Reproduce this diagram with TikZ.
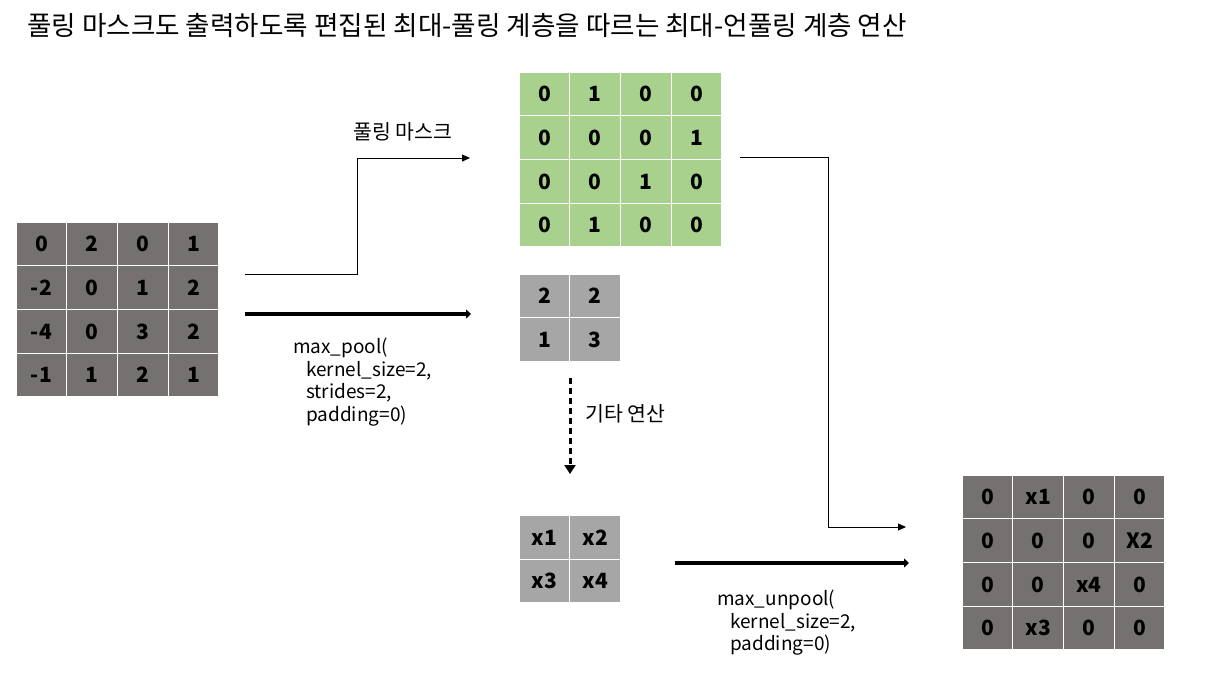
\documentclass[tikz,border=0pt]{standalone}
\usepackage{fontspec}
\setmainfont{Noto Sans CJK KR}
\usetikzlibrary{arrows.meta}
\definecolor{darkcell}{RGB}{118,113,113}
\definecolor{greencell}{RGB}{169,209,142}
\definecolor{lightcell}{RGB}{166,166,166}

\begin{document}
\begin{tikzpicture}[x=1pt,y=-1pt,
  cell/.style={minimum width=50.75pt,minimum height=43.75pt,inner sep=0pt,draw=white,line width=1.2pt,font=\fontsize{21}{21}\selectfont\bfseries},
  thinarrow/.style={line width=1pt,-{Triangle[length=8pt,width=7pt]}},
  thickarrow/.style={line width=4pt,-{Triangle[length=5pt,width=9pt]}},
  lbl/.style={font=\fontsize{19}{22.5}\selectfont,align=left,inner sep=0pt},
  kolbl/.style={font=\fontsize{20.5}{22.5}\selectfont,inner sep=0pt}]
\useasboundingbox (0,0) rectangle (1214,677);
\node[anchor=west,inner sep=0pt,font=\fontsize{26.6}{26.6}\selectfont] (title) at (27,25) {풀링 마스크도 출력하도록 편집된 최대-풀링 계층을 따르는 최대-언풀링 계층 연산};
% input
\foreach \v [count=\i from 0] in {0,2,0,1,-2,0,1,2,-4,0,3,2,-1,1,2,1}
  \node[cell,fill=darkcell] (in\i) at ({41.4+50.75*mod(\i,4)},{243.9+43.75*div(\i,4)}) {\v};
% pooling mask
\foreach \v [count=\i from 0] in {0,1,0,0,0,0,0,1,0,0,1,0,0,1,0,0}
  \node[cell,fill=greencell] (mask\i) at ({544.4+50.75*mod(\i,4)},{93.9+43.75*div(\i,4)}) {\v};
% pooled
\foreach \v [count=\i from 0] in {2,2,1,3}
  \node[cell,fill=lightcell] (pool\i) at ({544.4+50.75*mod(\i,2)},{295.9+43.75*div(\i,2)}) {\v};
\foreach \v [count=\i from 0] in {x1,x2,x3,x4}
  \node[cell,fill=lightcell] (x\i) at ({544.4+50.75*mod(\i,2)},{537.4+43.75*div(\i,2)}) {\v};
% unpooled
\foreach \v [count=\i from 0] in {0,x1,0,0,0,0,0,X2,0,0,x4,0,0,x3,0,0}
  \node[cell,fill=darkcell] (out\i) at ({987.4+50.75*mod(\i,4)},{496.9+43.75*div(\i,4)}) {\v};

\coordinate (maskFrom) at (245,274);
\coordinate (maskTo) at (470,158);
\coordinate (poolFrom) at (245,314);
\coordinate (poolTo) at (471,314);
\coordinate (etcFrom) at (570,378);
\coordinate (etcTo) at (570,474);
\coordinate (maskOut) at (740,157);
\coordinate (outMask) at (906,527);
\coordinate (unpoolFrom) at (675,563);
\coordinate (unpoolTo) at (909,563);

\draw[thinarrow] (maskFrom) -- (357,274) |- (maskTo);
\node[kolbl] (maskLbl) at (403,132) {풀링 마스크};
\draw[thickarrow] (poolFrom) -- (poolTo);
\node[lbl,anchor=north west] (poolLbl) at (293,338) {max\_pool(\\\hspace*{13pt}kernel\_size=2,\\\hspace*{13pt}strides=2,\\\hspace*{13pt}padding=0)};
\draw[line width=3pt,dash pattern=on 6pt off 4pt,-{Triangle[length=9pt,width=11pt]}] (etcFrom) -- (etcTo);
\node[kolbl,anchor=west] (etcLbl) at (585,414) {기타 연산};
\draw[thinarrow] (maskOut) -- (828,157) |- (outMask);
\draw[thickarrow] (unpoolFrom) -- (unpoolTo);
\node[lbl,anchor=north west] (unpoolLbl) at (717,590) {max\_unpool(\\\hspace*{13pt}kernel\_size=2,\\\hspace*{13pt}padding=0)};
\end{tikzpicture}
\end{document}
